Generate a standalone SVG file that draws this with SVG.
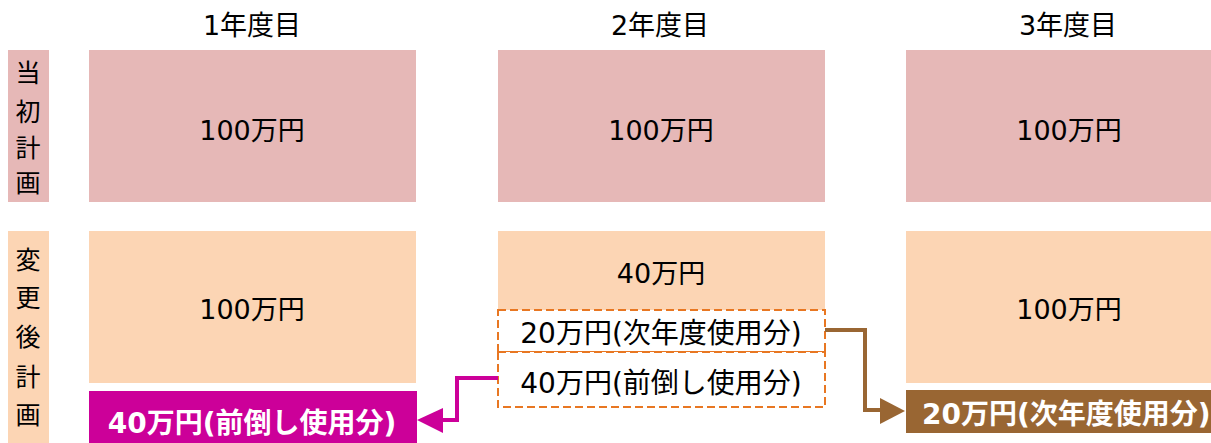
<svg xmlns="http://www.w3.org/2000/svg" width="1211" height="443" viewBox="0 0 1211 443">
<style>
text{font-family:"DejaVu Sans","Noto Sans CJK JP",sans-serif;fill:#000;}
.t{font-size:27px;text-anchor:middle;}
.d{font-size:28px;text-anchor:middle;}
.v{font-size:25px;text-anchor:middle;font-family:"Noto Sans CJK JP",sans-serif;}
.b{font-size:28px;font-weight:bold;fill:#fff;}
.pink{fill:#E6B8B7;}
.peach{fill:#FCD5B4;}
.dash{fill:#fff;stroke:#E87722;stroke-width:2;stroke-dasharray:8 4;}
</style>
<rect width="1211" height="443" fill="#fff"/>
<g id="headers">
<text class="t" x="252" y="35">1年度目</text>
<text class="t" x="660" y="35">2年度目</text>
<text class="t" x="1068" y="35">3年度目</text>
</g>
<g id="label-initial">
<rect class="pink" x="8" y="50" width="41" height="152"/>
<text class="v" x="28" y="82">当</text>
<text class="v" x="28" y="121">初</text>
<text class="v" x="28" y="157">計</text>
<text class="v" x="28" y="192">画</text>
</g>
<g id="label-changed">
<rect class="peach" x="8" y="231" width="41" height="212"/>
<text class="v" x="28" y="269">変</text>
<text class="v" x="28" y="307">更</text>
<text class="v" x="28" y="346">後</text>
<text class="v" x="28" y="386">計</text>
<text class="v" x="28" y="424">画</text>
</g>
<g id="plan1"><rect class="pink" x="89" y="50" width="327" height="152"/><text class="t" x="252" y="140">100万円</text></g>
<g id="plan2"><rect class="pink" x="498" y="50" width="327" height="152"/><text class="t" x="661" y="140">100万円</text></g>
<g id="plan3"><rect class="pink" x="906" y="50" width="305" height="152"/><text class="t" x="1069" y="140">100万円</text></g>
<g id="changed1"><rect class="peach" x="89" y="231" width="327" height="152"/><text class="t" x="252" y="319">100万円</text></g>
<g id="changed2"><rect class="peach" x="498" y="231" width="327" height="79"/><text class="t" x="661" y="283">40万円</text></g>
<g id="changed3"><rect class="peach" x="906" y="231" width="305" height="152"/><text class="t" x="1069" y="319">100万円</text></g>
<g id="next-year-part"><rect class="dash" x="498" y="310" width="327" height="42"/><text class="d" x="661" y="343">20万円(次年度使用分)</text></g>
<g id="advance-part"><rect class="dash" x="498" y="352" width="327" height="55"/><text class="d" x="661" y="393">40万円(前倒し使用分)</text></g>
<g id="advance-result"><rect x="89" y="391" width="328" height="52" fill="#CC0099"/><text class="b" x="252" y="433" text-anchor="middle">40万円(前倒し使用分)</text></g>
<g id="next-result"><rect x="906" y="390" width="305" height="43" fill="#996633"/><text class="b" x="922" y="424">20万円(次年度使用分)</text></g>
<g id="connectors">
<polyline points="498,378 457,378 457,420 440,420" fill="none" stroke="#CC0099" stroke-width="4"/>
<polygon points="417,420 443,408 443,433" fill="#CC0099"/>
<polyline points="825,330 865,330 865,410 882,410" fill="none" stroke="#996633" stroke-width="4"/>
<polygon points="905,411 880,398 880,424" fill="#996633"/>
</g>
</svg>
